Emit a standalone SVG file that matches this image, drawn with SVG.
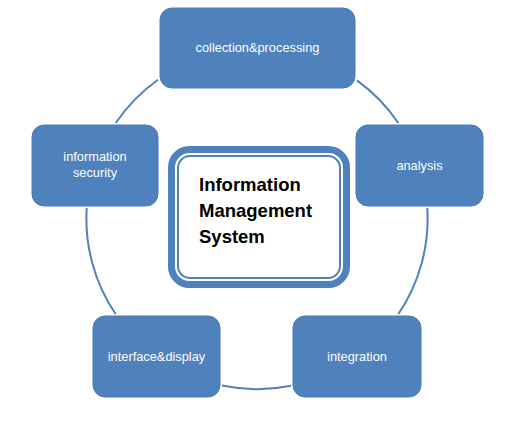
<svg xmlns="http://www.w3.org/2000/svg" width="521" height="426" viewBox="0 0 521 426">
<style>
.node rect{fill:#4f81bd;stroke:#4a7ab3;stroke-width:1}
.lbl{font-family:"Liberation Sans",Arial,sans-serif;font-size:12.8px;fill:#ffffff;text-anchor:middle}
.ctr{font-family:"Liberation Sans",Arial,sans-serif;font-size:18.5px;font-weight:bold;fill:#000000}
.arc{fill:none;stroke:#4f81bd;stroke-width:2}
</style>
<rect x="0" y="0" width="521" height="426" fill="#ffffff"/>
<g id="connectors">
<path class="arc" d="M115.7,123 A170.6,170.6 0 0 1 158,79.7"/>
<path class="arc" d="M357,80.4 A170.6,170.6 0 0 1 398.3,123"/>
<path class="arc" d="M427.3,208 A170.6,170.6 0 0 1 398.4,314"/>
<path class="arc" d="M291,385.8 A170.6,170.6 0 0 1 222,385.6"/>
<path class="arc" d="M115.6,314 A170.6,170.6 0 0 1 86.7,208"/>
</g>
<g id="center">
<rect x="171.5" y="149.5" width="175" height="135" rx="18" fill="#ffffff" stroke="#4f81bd" stroke-width="7"/>
<rect x="178" y="156" width="162" height="122" rx="12" fill="none" stroke="#4f81bd" stroke-width="2"/>
<text class="ctr" x="199" y="191">Information</text>
<text class="ctr" x="199" y="217">Management</text>
<text class="ctr" x="199" y="243">System</text>
</g>
<g id="collection" class="node">
<rect x="160" y="8" width="195" height="80" rx="12"/>
<text class="lbl" x="257.5" y="52">collection&amp;processing</text>
</g>
<g id="analysis" class="node">
<rect x="356" y="125" width="127" height="81" rx="12"/>
<text class="lbl" x="419.5" y="170">analysis</text>
</g>
<g id="integration" class="node">
<rect x="293" y="316" width="128" height="81" rx="12"/>
<text class="lbl" x="357" y="361">integration</text>
</g>
<g id="interface" class="node">
<rect x="93" y="316" width="127" height="81" rx="12"/>
<text class="lbl" x="156.5" y="361">interface&amp;display</text>
</g>
<g id="security" class="node">
<rect x="32" y="125" width="126" height="81" rx="12"/>
<text class="lbl" x="95" y="161">information</text>
<text class="lbl" x="95" y="177">security</text>
</g>
</svg>
